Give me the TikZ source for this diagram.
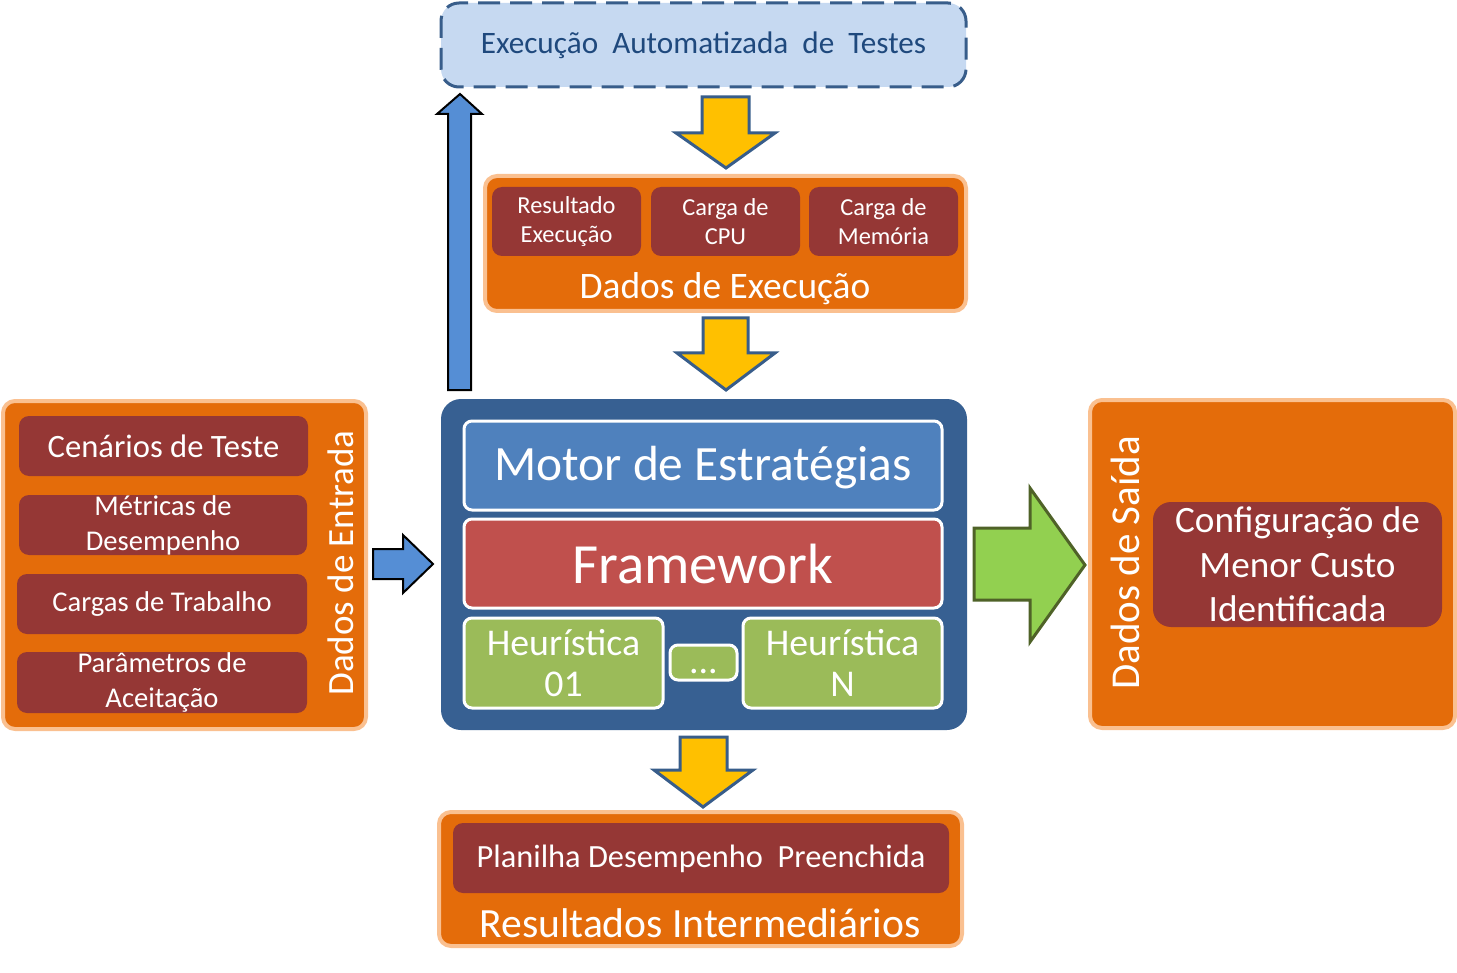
\documentclass[tikz,border=0pt]{standalone}
\usepackage{fontspec}
\setmainfont{Carlito}
\usepackage{tikz}

\definecolor{laranja}{HTML}{E46C0A}
\definecolor{laranjaclaro}{HTML}{FAC090}
\definecolor{vinho}{HTML}{953735}
\definecolor{azulclaro}{HTML}{C6D9F1}
\definecolor{azulborda}{HTML}{385D8A}
\definecolor{azultexto}{HTML}{1F497D}
\definecolor{azulmotor}{HTML}{376092}
\definecolor{azulmedio}{HTML}{4F81BD}
\definecolor{azulseta}{HTML}{558ED5}
\definecolor{vermelho}{HTML}{C0504D}
\definecolor{verde}{HTML}{9BBB59}
\definecolor{verdeseta}{HTML}{92D050}
\definecolor{verdeborda}{HTML}{4F6228}
\definecolor{amarelo}{HTML}{FFC000}

\tikzset{
  caixa/.style={draw=laranjaclaro, line width=2pt, fill=laranja, rounded corners=6pt, inner sep=0pt},
  item/.style={fill=vinho, rounded corners=5pt, text=white, align=center, inner sep=0pt},
  bloco/.style={draw=white, line width=1.5pt, rounded corners=4pt, text=white, align=center, inner sep=0pt},
  rotulo/.style={text=white, inner sep=0pt},
  setaamarela/.style={fill=amarelo, draw=azulborda, line width=1.5pt},
  setaazul/.style={fill=azulseta, draw=black, line width=1pt},
  setaverde/.style={fill=verdeseta, draw=verdeborda, line width=1.5pt}
}

\begin{document}
\begin{tikzpicture}[x=0.5pt, y=-0.5pt]
  \useasboundingbox (0,0) rectangle (1457,973);

  % execucao automatizada
  \node[draw=azulborda, fill=azulclaro, line width=1.5pt, dash pattern=on 11pt off 5pt,
        rounded corners=9pt, minimum width=262.5pt, minimum height=42pt, inner sep=0pt,
        text=azultexto, font=\fontsize{15.6}{18}\selectfont] (teste) at (703.5,45)
        {Execução\ \ Automatizada\ \ de\ \ Testes};

  % dados de execucao
  \node[caixa, minimum width=240.5pt, minimum height=67.5pt] (execucao) at (725.5,243.5) {};
  \node[item, minimum width=74.5pt, minimum height=34.5pt, font=\fontsize{12.2}{14.5}\selectfont]
        (resultado) at (566.5,221.5) {Resultado\\Execução};
  \node[item, minimum width=74.5pt, minimum height=34.5pt, font=\fontsize{12.2}{14.5}\selectfont]
        (cpu) at (725.5,221.5) {Carga de\\CPU};
  \node[item, minimum width=74.5pt, minimum height=34.5pt, font=\fontsize{12.2}{14.5}\selectfont]
        (memoria) at (883.5,221.5) {Carga de\\Memória};
  \node[rotulo, font=\fontsize{18.7}{22}\selectfont] (dadosexec) at (725,289) {Dados de Execução};

  % motor
  \node[fill=azulmotor, rounded corners=10pt, minimum width=263pt, minimum height=165.5pt] (central) at (704,564.5) {};
  \node[bloco, fill=azulmedio, minimum width=239pt, minimum height=44.5pt, text depth=2pt,
        font=\fontsize{24.7}{28}\selectfont] (motor) at (703,465.5) {Motor de Estratégias};
  \node[bloco, fill=vermelho, minimum width=239pt, minimum height=44.5pt, font=\fontsize{28.4}{32}\selectfont]
        (framework) at (703,563.5) {Framework};
  \node[bloco, fill=verde, minimum width=99.5pt, minimum height=45pt, font=\fontsize{18.9}{20.5}\selectfont]
        (heur1) at (563.5,663) {Heurística\\01};
  \node[bloco, fill=verde, minimum width=33.5pt, minimum height=17.5pt, text height=11pt, text depth=0pt,
        font=\fontsize{18.9}{20.5}\selectfont] (pontos) at (703.5,662.5) {...};
  \node[bloco, fill=verde, minimum width=99.5pt, minimum height=45pt, font=\fontsize{18.9}{20.5}\selectfont]
        (heurN) at (842.5,663) {Heurística\\N};

  % dados de entrada
  \node[caixa, minimum width=181.5pt, minimum height=164pt] (entrada) at (184.5,565) {};
  \node[item, minimum width=144.5pt, minimum height=30pt, font=\fontsize{16.3}{19}\selectfont]
        (cenarios) at (163.5,446) {Cenários de Teste};
  \node[item, minimum width=144pt, minimum height=30pt, font=\fontsize{14.3}{17.5}\selectfont]
        (metricas) at (163,525) {Métricas de\\Desempenho};
  \node[item, minimum width=145pt, minimum height=30pt, font=\fontsize{14.3}{17.5}\selectfont]
        (cargas) at (162,604) {Cargas de Trabalho};
  \node[item, minimum width=145pt, minimum height=30.5pt, font=\fontsize{14.3}{17.5}\selectfont]
        (parametros) at (162,682.5) {Parâmetros de\\Aceitação};
  \node[rotulo, rotate=90, font=\fontsize{18.5}{22}\selectfont] (dadosent) at (341,563) {Dados de Entrada};

  % dados de saida
  \node[caixa, minimum width=182.5pt, minimum height=164pt] (saida) at (1272.5,564) {};
  \node[item, rounded corners=9pt, minimum width=144.5pt, minimum height=62.5pt, font=\fontsize{18.6}{22.2}\selectfont]
        (config) at (1297.5,564.5) {Configuração de\\Menor Custo\\Identificada};
  \node[rotulo, rotate=90, font=\fontsize{20.5}{24}\selectfont] (dadossaida) at (1125,563) {Dados de Saída};

  % resultados intermediarios
  \node[caixa, minimum width=261.5pt, minimum height=67pt] (intermed) at (700.5,879) {};
  \node[item, minimum width=248pt, minimum height=35pt, text depth=2pt, font=\fontsize{16.2}{19}\selectfont]
        (planilha) at (701,858) {Planilha Desempenho\ \ Preenchida};
  \node[rotulo, font=\fontsize{20.8}{24}\selectfont] (resinter) at (700,923) {Resultados Intermediários};

  % setas
  \draw[setaamarela] (702,97) -- (749,97) -- (749,133) -- (775,133) -- (726,168) -- (676,133) -- (702,133) -- cycle;
  \draw[setaamarela] (703,318) -- (748,318) -- (748,353) -- (775,353) -- (726,390) -- (677,353) -- (703,353) -- cycle;
  \draw[setaamarela] (680,737) -- (727,737) -- (727,770) -- (753,770) -- (703,807) -- (654,770) -- (680,770) -- cycle;
  \draw[setaazul] (448,390) -- (448,114) -- (437,114) -- (460,94) -- (482,114) -- (471,114) -- (471,390) -- cycle;
  \draw[setaazul] (373,549) -- (403,549) -- (403,535) -- (433,564) -- (403,593) -- (403,579) -- (373,579) -- cycle;
  \draw[setaverde] (974,528) -- (1030,528) -- (1030,488) -- (1085,565) -- (1030,642) -- (1030,600) -- (974,600) -- cycle;
\end{tikzpicture}
\end{document}
